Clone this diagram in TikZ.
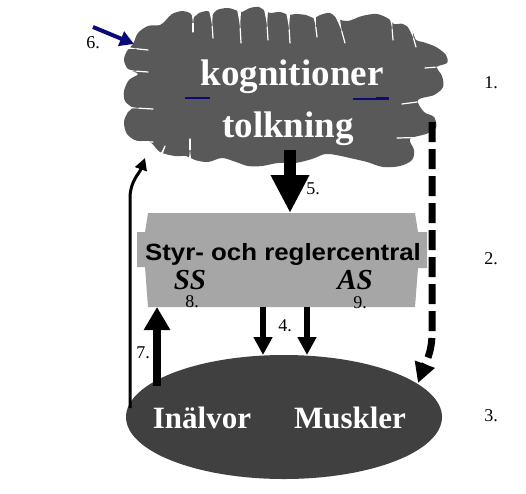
\documentclass[tikz,border=0pt]{standalone}
\usepackage{fontspec}
\setmainfont{Liberation Serif}
\setsansfont{Liberation Sans}
\usetikzlibrary{arrows.meta,shapes.geometric,calc}
\definecolor{braingray}{HTML}{595959}
\definecolor{boxgray}{HTML}{A6A6A6}
\definecolor{ellgray}{HTML}{404040}
\definecolor{navyblue}{HTML}{0A0A78}
\tikzset{
  num/.style={font=\fontsize{18}{18}\selectfont, inner sep=0},
  braintext/.style={font=\fontsize{37}{37}\selectfont\bfseries, text=white, inner sep=0, anchor=base},
  elltext/.style={font=\fontsize{31}{31}\selectfont\bfseries, text=white, inner sep=0, anchor=base},
  sstext/.style={font=\fontsize{29}{29}\selectfont\bfseries\itshape, inner sep=0, anchor=base},
}
% tapered white notch: from outside point #1,#2 to inner tip #3,#4, half base width #5
\newcommand{\brainnotch}[5]{%
  \fill[white] ($(#1,#2)!#5pt!90:(#3,#4)$) .. controls ($(#1,#2)!0.5!(#3,#4)$) .. (#3,#4)
     .. controls ($(#1,#2)!0.5!(#3,#4)$) .. ($(#1,#2)!#5pt!-90:(#3,#4)$) -- cycle;
  \draw[white, line width=1.2pt, line cap=round] ($(#1,#2)!0.6!(#3,#4)$) -- (#3,#4);}
\begin{document}
\begin{tikzpicture}[x=1pt,y=-1pt]
\useasboundingbox (0,0) rectangle (526,493);
% brain
\fill[braingray] plot[smooth cycle, tension=0.55] coordinates {
 (133,44) (138,33) (148,26) (160,25) (166,20) (172,14) (182,11) (190,13) (194,17)
 (199,13) (208,11) (212,15) (217,10) (228,8) (238,11) (242,12) (250,8) (259,7) (265,11)
 (270,13) (280,12) (289,15) (295,14) (306,15) (314,18) (320,15) (330,13) (338,19)
 (348,21) (362,16) (377,14) (389,19) (394,24) (403,24) (412,31) (416,40) (423,42)
 (436,47) (446,55) (447,63) (437,67) (442,76) (443,87) (434,95) (418,100)
 (424,112) (434,117) (436,128) (426,134) (410,139) (414,150) (412,160) (400,166)
 (383,167) (367,162) (350,158) (336,155) (325,154) (312,159) (295,163) (278,163)
 (262,166) (248,166) (236,162) (222,158) (208,162) (195,160) (186,156) (175,156)
 (160,152) (150,142) (137,141) (127,134) (124,122) (128,112) (132,108) (125,101)
 (124,91) (129,80) (138,74) (128,69) (124,60) (127,51)};
% sulci and notches
\brainnotch{193}{10}{193}{32}{2.2}
\brainnotch{211}{9}{213}{38}{2.2}
\brainnotch{239}{7}{241}{43}{2.4}
\brainnotch{266}{8}{268}{40}{2.2}
\brainnotch{288}{10}{290}{43}{2.4}
\brainnotch{314}{12}{317}{37}{2.2}
\brainnotch{337}{14}{345}{43}{2.6}
\brainnotch{391}{14}{393}{40}{2.2}
\brainnotch{410}{26}{416}{47}{2.2}
\brainnotch{450}{66}{425}{68}{2.6}
\brainnotch{440}{99}{402}{104}{2.8}
\brainnotch{440}{137}{397}{138}{2.8}
\brainnotch{120}{47}{148}{50}{2.4}
\brainnotch{120}{70}{148}{72}{2.6}
\brainnotch{118}{107}{153}{109}{2.8}
\brainnotch{126}{141}{153}{142}{2.4}
\brainnotch{190}{166}{190}{139}{2.4}
\brainnotch{160}{158}{165}{146}{1.8}
% brain text
\node[braintext] (kog) at (292,85) {kognitioner};
\node[braintext] (tolk) at (288,137) {tolkning};
\draw[navyblue, line width=1.8pt] (185,98) -- (210,98);
\draw[navyblue, line width=1.8pt] (353,99) -- (380,99);
\draw[navyblue, line width=2.6pt] (376,98.6) -- (389,98.6);
% control box
\fill[boxgray] (148,213) -- (415,213) -- (418,232) -- (427,232) -- (427,268) -- (418,268)
  -- (415,307) -- (148,307) -- (145,267) -- (137,267) -- (137,232) -- (145,232) -- cycle;
\coordinate (boxTop) at (290,213);
\node[font=\sffamily\bfseries\fontsize{23.5}{23.5}\selectfont, inner sep=0, anchor=base] (styr) at (283,260)
  {\scalebox{1.1}[1]{Styr- och reglercentral}};
\node[sstext] (ss) at (190,289) {SS};
\node[sstext] (as) at (355,289) {AS};
\node[num] (n8) at (192,302) {8.};
\node[num] (n9) at (360,303) {9.};
% body ellipse
\node[ellipse, fill=ellgray, minimum width=316pt, minimum height=124pt, inner sep=0] (body) at (284,417) {};
\node[elltext] (inal) at (202,428) {Inälvor};
\node[elltext] (musk) at (350,428) {Muskler};
% arrows
\coordinate (a5s) at (290,150);
\draw[line width=12pt, -{Triangle[length=38pt,width=36pt]}] (a5s) -- (boxTop);
\coordinate (a4as) at (263,307); \coordinate (a4ae) at (263,355);
\coordinate (a4bs) at (307,307); \coordinate (a4be) at (307,355);
\draw[line width=6pt, -{Triangle[length=18pt,width=18pt]}] (a4as) -- (a4ae);
\draw[line width=6pt, -{Triangle[length=18pt,width=18pt]}] (a4bs) -- (a4be);
\coordinate (a7s) at (157,386); \coordinate (a7e) at (157,307);
\draw[line width=8pt, -{Triangle[length=23pt,width=25pt]}] (a7s) -- (a7e);
\coordinate (thinS) at (130,408); \coordinate (thinE) at (145,158);
\draw[line width=3pt, -{Triangle[length=12pt,width=12pt]}] (thinS) -- (130,198) to[out=90,in=-110] (thinE);
\coordinate (dashS) at (432,122); \coordinate (dashE) at (418,383);
\draw[line width=7pt, dash pattern=on 20pt off 7pt, -{Triangle[length=20pt,width=20pt]}]
  (dashS) -- (432,333) to[out=-90,in=70] (dashE);
\coordinate (a6s) at (93,27); \coordinate (a6e) at (134,44);
\draw[navyblue, line width=4pt, -{Triangle[length=14pt,width=15pt]}] (a6s) -- (a6e);
% labels
\node[num] (n6) at (93,43) {6.};
\node[num] (n5) at (313,189) {5.};
\node[num] (n4) at (285,326) {4.};
\node[num] (n7) at (143,353) {7.};
\node[num] (n1) at (491,83) {1.};
\node[num] (n2) at (491,259) {2.};
\node[num] (n3) at (491,416) {3.};
\end{tikzpicture}
\end{document}
